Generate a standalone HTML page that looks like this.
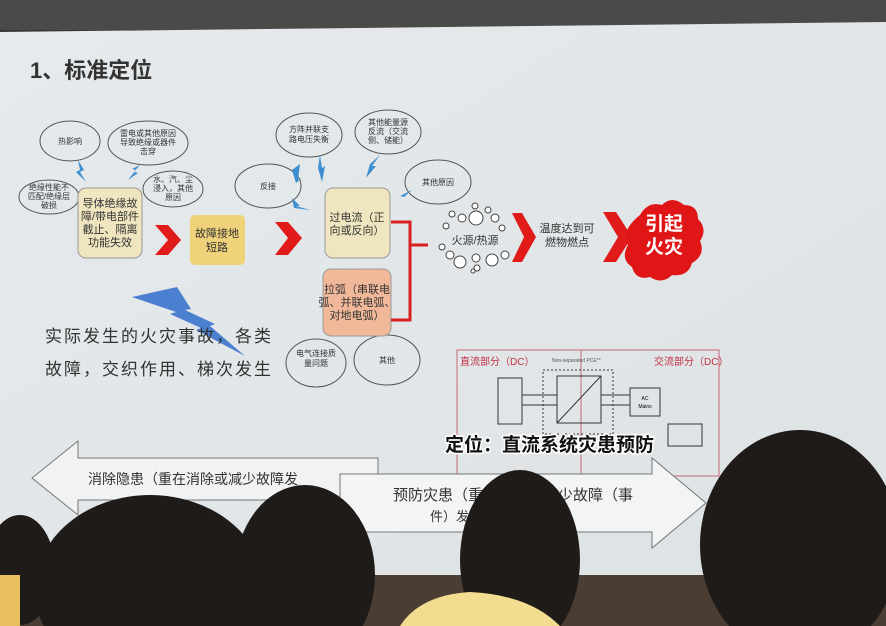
<!DOCTYPE html>
<html><head><meta charset="utf-8"><style>
html,body{margin:0;padding:0;width:886px;height:626px;overflow:hidden;background:#2b2a2a}
svg{display:block}
text{font-family:"Liberation Sans","Noto Sans CJK SC",sans-serif}
</style></head><body>
<svg width="886" height="626" viewBox="0 0 886 626" xmlns="http://www.w3.org/2000/svg" style="position:absolute;left:0;top:0">
<defs>
<linearGradient id="bg" x1="0" y1="0" x2="1" y2="1">
<stop offset="0" stop-color="#e6eaec"/><stop offset="1" stop-color="#dde2e4"/></linearGradient>
</defs>
<rect width="886" height="626" fill="#3a3836"/>
<rect x="0" y="0" width="886" height="30" fill="#4a4a48"/>
<polygon points="0,32 886,22 886,585 0,585" fill="url(#bg)"/>
<rect x="0" y="575" width="886" height="51" fill="#4a3e34"/>
<text x="30" y="78" font-size="22" font-weight="bold" fill="#333">1、标准定位</text>

<g fill="none" stroke="#555" stroke-width="1">
<ellipse cx="70" cy="141" rx="30" ry="20"/>
<ellipse cx="148" cy="143" rx="40" ry="22"/>
<ellipse cx="49" cy="197" rx="30" ry="17"/>
<ellipse cx="173" cy="189" rx="30" ry="18"/>
<ellipse cx="268" cy="186" rx="33" ry="22"/>
<ellipse cx="309" cy="135" rx="33" ry="22"/>
<ellipse cx="388" cy="132" rx="33" ry="22"/>
<ellipse cx="438" cy="182" rx="33" ry="22"/>
<ellipse cx="316" cy="363" rx="30" ry="24"/>
<ellipse cx="387" cy="360" rx="33" ry="25"/>
</g>
<g fill="#3f8fd0">
<polygon points="78,160 84,170 80,172 86,182 76,172 80,170"/>
<polygon points="140,165 134,172 138,173 128,180 136,170 132,169"/>
<polygon points="300,164 298,180 302,178 296,183 292,170"/>
<polygon points="320,155 322,168 325,166 322,182 318,168"/>
<polygon points="380,155 372,166 376,166 366,178 370,164"/>
<polygon points="292,198 300,206 296,206 310,210 294,208"/>
<polygon points="412,190 400,196 404,197"/>
</g>
<g font-size="8" fill="#333" text-anchor="middle">
<text x="70" y="144">热影响</text>
<text x="148" y="136">雷电或其他原因</text><text x="148" y="145">导致绝缘或器件</text><text x="148" y="154">击穿</text>
<text x="49" y="190">绝缘性能不</text><text x="49" y="199">匹配/绝缘层</text><text x="49" y="208">破损</text>
<text x="173" y="182">水、汽、尘</text><text x="173" y="191">浸入，其他</text><text x="173" y="200">原因</text>
<text x="268" y="189">反接</text>
<text x="309" y="132">方阵并联支</text><text x="309" y="142">路电压失衡</text>
<text x="388" y="125">其他能量源</text><text x="388" y="134">反流（交流</text><text x="388" y="143">侧、储能）</text>
<text x="438" y="185">其他原因</text>
<text x="316" y="356">电气连接质</text><text x="316" y="366">量问题</text>
<text x="387" y="363">其他</text>
</g>

<rect x="78" y="188" width="64" height="70" rx="8" fill="#efe6c0" stroke="#999"/>
<g font-size="11" fill="#333" text-anchor="middle">
<text x="110" y="207">导体绝缘故</text><text x="110" y="220">障/带电部件</text><text x="110" y="233">截止、隔离</text><text x="110" y="246">功能失效</text>
</g>
<rect x="190" y="215" width="55" height="50" rx="5" fill="#f0d27a"/>
<g font-size="11" fill="#333" text-anchor="middle"><text x="217" y="237">故障接地</text><text x="217" y="251">短路</text></g>
<rect x="325" y="188" width="65" height="70" rx="8" fill="#efe6c0" stroke="#999"/>
<g font-size="11" fill="#333" text-anchor="middle"><text x="357" y="221">过电流（正</text><text x="357" y="234">向或反向）</text></g>
<rect x="323" y="269" width="68" height="67" rx="8" fill="#f2b89a" stroke="#999"/>
<g font-size="11" fill="#333" text-anchor="middle"><text x="357" y="293">拉弧（串联电</text><text x="357" y="306">弧、并联电弧、</text><text x="357" y="319">对地电弧）</text></g>
<path d="M391,222 H410 V320 H391 M410,245 H428" fill="none" stroke="#d92020" stroke-width="3"/>

<g fill="#e11a1a">
<polygon points="155,225 168,225 181,240 168,255 155,255 168,240"/>
<polygon points="275,222 288,222 302,238 288,255 275,255 288,238"/>
<polygon points="512,213 522,213 536,237 522,262 512,262 524,237"/>
<polygon points="603,212 616,212 632,237 616,262 603,262 618,237"/>
</g>
<g fill="#fff" stroke="#444" stroke-width="1">
<circle cx="452" cy="214" r="3"/><circle cx="462" cy="218" r="4"/><circle cx="476" cy="218" r="7"/><circle cx="475" cy="206" r="3"/><circle cx="488" cy="210" r="3"/><circle cx="495" cy="218" r="4"/><circle cx="502" cy="228" r="3"/>
<circle cx="446" cy="226" r="3"/><circle cx="442" cy="247" r="3"/><circle cx="450" cy="255" r="4"/><circle cx="460" cy="262" r="6"/><circle cx="476" cy="258" r="4"/><circle cx="477" cy="268" r="3"/><circle cx="492" cy="260" r="6"/><circle cx="505" cy="255" r="4"/><circle cx="473" cy="271" r="2"/>
</g>
<text x="475" y="244" font-size="11" fill="#333" text-anchor="middle">火源/热源</text>
<g font-size="11" fill="#333" text-anchor="middle"><text x="567" y="232">温度达到可</text><text x="567" y="246">燃物燃点</text></g>
<path d="M640,215 q8,-14 22,-10 q10,-10 22,0 q14,0 14,14 q10,10 2,22 q6,14 -8,22 q-4,14 -20,12 q-10,10 -22,2 q-14,4 -18,-10 q-12,-8 -4,-22 q-8,-14 12,-30z" fill="#e01515"/>
<g font-size="19" fill="#fff" text-anchor="middle" font-weight="bold"><text x="664" y="230">引起</text><text x="664" y="253">火灾</text></g>

<polygon points="132,297 177,287 191,309 185,310 215,324 210,326 245,356 196,330 201,328 170,314 176,312" fill="#4b7fd0"/>
<g font-size="17" fill="#333" letter-spacing="2"><text x="45" y="342">实际发生的火灾事故，各类</text><text x="45" y="375">故障，交织作用、梯次发生</text></g>

<rect x="457" y="350" width="262" height="126" fill="none" stroke="#c8697a" stroke-width="1"/>
<line x1="581" y1="350" x2="581" y2="476" stroke="#c8697a"/>
<text x="460" y="365" font-size="10" fill="#c03040">直流部分（DC）</text>
<text x="654" y="365" font-size="10" fill="#c03040">交流部分（DC）</text>
<text x="552" y="362" font-size="5" fill="#555">Non-separated PCE**</text>
<rect x="543" y="370" width="70" height="64" fill="none" stroke="#333" stroke-dasharray="2,2"/>
<rect x="498" y="378" width="24" height="46" fill="none" stroke="#333"/>
<rect x="557" y="376" width="44" height="47" fill="none" stroke="#333"/>
<line x1="557" y1="423" x2="601" y2="376" stroke="#333"/>
<rect x="630" y="388" width="30" height="28" fill="none" stroke="#333"/>
<text x="645" y="400" font-size="5" text-anchor="middle">AC</text><text x="645" y="408" font-size="5" text-anchor="middle">Mains</text>
<rect x="668" y="424" width="34" height="22" fill="none" stroke="#333"/>
<path d="M522,395 H557 M522,405 H557 M601,395 H630 M601,405 H630" stroke="#333"/>

<polygon points="32,478 78,441 78,458 378,458 378,500 78,500 78,515" fill="#f0f2f3" stroke="#777"/>
<text x="88" y="484" font-size="14" fill="#333">消除隐患（重在消除或减少故障发</text>
<polygon points="340,474 652,474 652,458 706,503 652,548 652,532 340,532" fill="#f3f4f5" stroke="#777"/>
<text x="393" y="500" font-size="15" fill="#333">预防灾患（重在消除或减少故障（事</text>
<text x="430" y="521" font-size="13" fill="#333">件）发生的可能性/概率</text>
<text x="445" y="451" font-size="19" font-weight="bold" fill="#111" stroke="#fff" stroke-width="3" paint-order="stroke">定位：直流系统灾患预防</text>

<g fill="#1f1b19">
<ellipse cx="20" cy="570" rx="35" ry="55"/>
<ellipse cx="150" cy="590" rx="115" ry="95"/>
<ellipse cx="305" cy="575" rx="70" ry="90"/>
<ellipse cx="520" cy="560" rx="60" ry="90"/>
<ellipse cx="800" cy="545" rx="100" ry="115"/>
</g>
<rect x="0" y="575" width="20" height="51" fill="#e8c060"/>
<path d="M400,626 Q420,595 470,592 Q530,595 560,626z" fill="#f2dc90"/>
</svg>
</body></html>
